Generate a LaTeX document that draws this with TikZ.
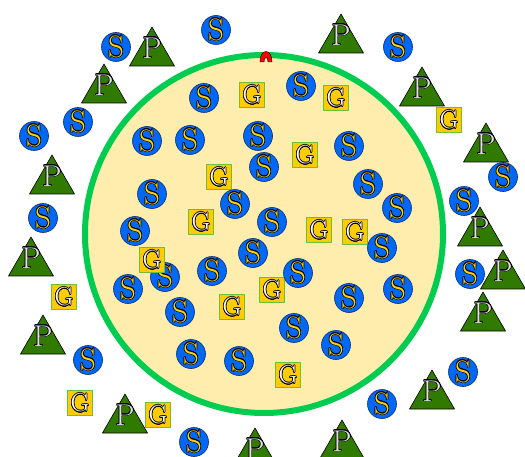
\documentclass[tikz,border=0pt]{standalone}
\usepackage{fontspec}
\usepackage[copies]{contour}
\usetikzlibrary{shapes.geometric}
\contourlength{0.6pt}
\definecolor{cellfill}{RGB}{255,237,174}
\definecolor{cellwall}{RGB}{0,204,80}
\definecolor{sfill}{RGB}{0,104,245}
\definecolor{sline}{RGB}{10,45,120}
\definecolor{sletter}{RGB}{255,210,20}
\definecolor{gfill}{RGB}{255,204,0}
\definecolor{gline}{RGB}{110,190,60}
\definecolor{pfill}{RGB}{48,122,0}
\definecolor{pletter}{RGB}{225,225,225}
\newcommand{\outlined}[1]{\contour{black}{#1}}
% letter with no size of its own, so the triangle keeps its size
\newcommand{\flatletter}[1]{\raisebox{-0.34em}{\smash{\makebox[0pt]{\contour{black}{#1}}}}}

\begin{document}
\begin{tikzpicture}[x=1pt,y=-1pt,line join=round,
  sbead/.style={circle,draw=sline,fill=sfill,line width=0.6pt,minimum size=29,inner sep=0pt,text=sletter,font=\fontsize{31}{31}\selectfont},
  gbox/.style={rectangle,draw=gline,fill=gfill,line width=1pt,minimum size=25,inner sep=0pt,text=white,font=\fontsize{26}{26}\selectfont},
  ptri/.style={regular polygon,regular polygon sides=3,draw=black,fill=pfill,line width=0.6pt,minimum size=52,inner sep=0pt,text=pletter,font=\fontsize{30}{30}\selectfont}]
  \useasboundingbox (0,0) rectangle (525,457);
  \clip (0,0) rectangle (525,457);
  % the cell
  \draw[fill=cellfill,draw=cellwall,line width=6pt] (264,234) circle[radius=179];
  \draw[fill=red,draw=black,line width=0.4pt] (260,62) .. controls (260,48) and (272,48) .. (272,62) -- (268,62) .. controls (268,56) and (264,56) .. (264,62) -- cycle;
  % G inside and outside
  \node[gbox] (g1) at (252,95) {\outlined{G}};
  \node[gbox] (g2) at (336,98) {\outlined{G}};
  \node[gbox] (g3) at (305,155) {\outlined{G}};
  \node[gbox] (g4) at (219,177) {\outlined{G}};
  \node[gbox] (g5) at (201,222) {\outlined{G}};
  \node[gbox] (g6) at (319,230) {\outlined{G}};
  \node[gbox] (g7) at (355,232) {\outlined{G}};
  \node[gbox] (g9) at (272,290) {\outlined{G}};
  \node[gbox] (g10) at (232,307) {\outlined{G}};
  \node[gbox] (g11) at (288,375) {\outlined{G}};
  \node[gbox] (g12) at (449,120) {\outlined{G}};
  \node[gbox] (g13) at (64,297) {\outlined{G}};
  \node[gbox] (g14) at (80,403) {\outlined{G}};
  \node[gbox] (g15) at (158,415) {\outlined{G}};
  % S outside
  \node[sbead] (s1) at (216,30) {\outlined{S}};
  \node[sbead] (s2) at (116,47) {\outlined{S}};
  \node[sbead] (s3) at (398,47) {\outlined{S}};
  \node[sbead] (s4) at (78,122) {\outlined{S}};
  \node[sbead] (s5) at (34,136) {\outlined{S}};
  \node[sbead] (s6) at (503,177) {\outlined{S}};
  \node[sbead] (s7) at (43,218) {\outlined{S}};
  \node[sbead] (s8) at (464,201) {\outlined{S}};
  \node[sbead] (s9) at (470,274) {\outlined{S}};
  \node[sbead] (s10) at (88,360) {\outlined{S}};
  \node[sbead] (s11) at (463,372) {\outlined{S}};
  \node[sbead] (s12) at (382,404) {\outlined{S}};
  \node[sbead] (s13) at (194,442) {\outlined{S}};
  % S inside
  \node[sbead] (s14) at (204,98) {\outlined{S}};
  \node[sbead] (s15) at (301,86) {\outlined{S}};
  \node[sbead] (s16) at (147,141) {\outlined{S}};
  \node[sbead] (s17) at (190,140) {\outlined{S}};
  \node[sbead] (s18) at (258,136) {\outlined{S}};
  \node[sbead] (s19) at (349,146) {\outlined{S}};
  \node[sbead] (s20) at (264,167) {\outlined{S}};
  \node[sbead] (s21) at (152,194) {\outlined{S}};
  \node[sbead] (s22) at (368,184) {\outlined{S}};
  \node[sbead] (s23) at (397,208) {\outlined{S}};
  \node[sbead] (s24) at (235,204) {\outlined{S}};
  \node[sbead] (s25) at (272,222) {\outlined{S}};
  \node[sbead] (s26) at (135,231) {\outlined{S}};
  \node[sbead] (s27) at (253,253) {\outlined{S}};
  \node[sbead] (s28) at (382,248) {\outlined{S}};
  \node[sbead] (s29) at (165,277) {\outlined{S}};
  \node[sbead] (s30) at (128,289) {\outlined{S}};
  \node[sbead] (s31) at (212,271) {\outlined{S}};
  \node[sbead] (s32) at (298,273) {\outlined{S}};
  \node[sbead] (s33) at (398,289) {\outlined{S}};
  \node[sbead] (s34) at (349,298) {\outlined{S}};
  \node[sbead] (s35) at (180,312) {\outlined{S}};
  \node[sbead] (s36) at (294,328) {\outlined{S}};
  \node[sbead] (s37) at (336,345) {\outlined{S}};
  \node[sbead] (s38) at (191,354) {\outlined{S}};
  \node[sbead] (s39) at (239,361) {\outlined{S}};
  \node[gbox] (g8) at (152,260) {\outlined{G}};
  % P outside
  \node[ptri] (p1) at (152,53) {\flatletter{P}};
  \node[ptri] (p2) at (341,40) {\flatletter{P}};
  \node[ptri] (p3) at (104,90) {\flatletter{P}};
  \node[ptri] (p4) at (422,93) {\flatletter{P}};
  \node[ptri] (p5) at (486,149) {\flatletter{P}};
  \node[ptri] (p6) at (52,181) {\flatletter{P}};
  \node[ptri] (p7) at (480,233) {\flatletter{P}};
  \node[ptri] (p8) at (31,263) {\flatletter{P}};
  \node[ptri] (p9) at (503,276) {\flatletter{P}};
  \node[ptri] (p10) at (483,318) {\flatletter{P}};
  \node[ptri] (p11) at (43,341) {\flatletter{P}};
  \node[ptri] (p12) at (432,396) {\flatletter{P}};
  \node[ptri] (p13) at (125,420) {\flatletter{P}};
  \node[ptri] (p14) at (255,454) {\flatletter{P}};
  \node[ptri] (p15) at (342,446) {\flatletter{P}};
\end{tikzpicture}
\end{document}
